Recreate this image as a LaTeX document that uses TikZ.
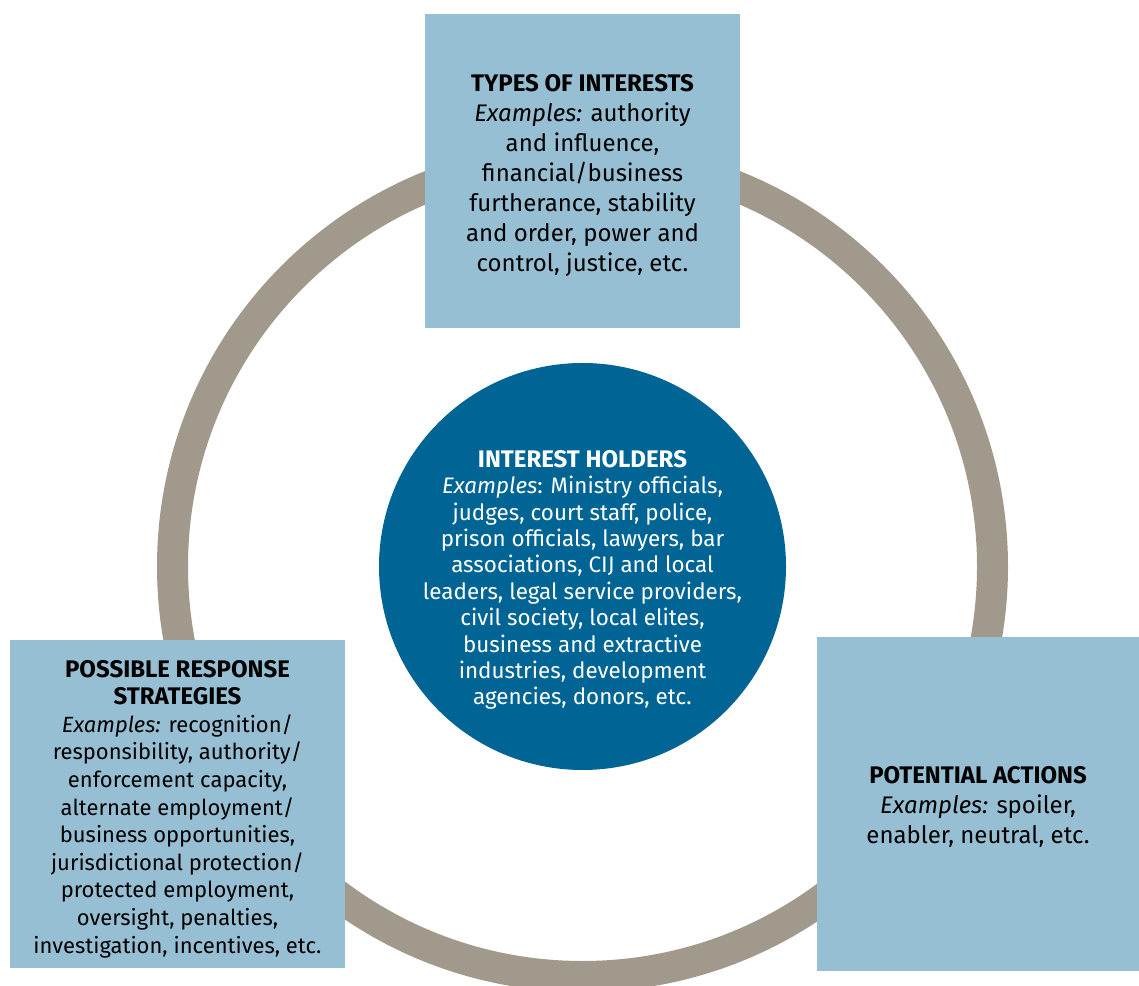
\documentclass[tikz,border=0pt]{standalone}
\usepackage{fontspec}
\setmainfont{Fira Sans}
\usetikzlibrary{positioning}

\definecolor{ringgray}{HTML}{A1998B}
\definecolor{boxblue}{HTML}{97BFD3}
\definecolor{holderblue}{HTML}{006595}

% headings are set a little larger than the body
\newcommand{\boxhead}[1]{{\fontsize{24}{24}\bfseries #1}}

\begin{document}
\begin{tikzpicture}[x=1pt, y=1pt,
    infobox/.style={fill=boxblue, inner sep=0pt},
    boxtext/.style={align=center, font=\fontsize{24}{30}\selectfont},
    holdertext/.style={text=white, align=center,
        font=\fontsize{22.4}{26.4}\selectfont}]
    \useasboundingbox (0,0) rectangle (1139,985);
    \coordinate (C) at (582.5,418.5);
    % outer ring behind everything
    \draw[ringgray, line width=31pt] (C) circle (410);
    % the three boxes on the ring
    \node[infobox, minimum width=315, minimum height=314] (types) at (582.5,814) {};
    \node[boxtext] (typeslabel) at ([yshift=-5pt]types.center)
        {\boxhead{TYPES OF INTERESTS}\\
         \textit{Examples:} authority\\
         and influence,\\
         financial/business\\
         furtherance, stability\\
         and order, power and\\
         control, justice, etc.};
    \node[infobox, minimum width=335, minimum height=328] (strategies) at (177.5,181) {};
    \node[boxtext, font=\fontsize{22}{27.6}\selectfont] (strategieslabel)
        at ([yshift=-5pt]strategies.center)
        {\boxhead{POSSIBLE RESPONSE}\\
         \boxhead{STRATEGIES}\\
         \textit{Examples:} recognition/\\
         responsibility, authority/\\
         enforcement capacity,\\
         alternate employment/\\
         business opportunities,\\
         jurisdictional protection/\\
         protected employment,\\
         oversight, penalties,\\
         investigation, incentives, etc.};
    \node[infobox, minimum width=322, minimum height=334] (actions) at (978,181) {};
    \node[boxtext] (actionslabel) at ([yshift=-2.5pt]actions.center)
        {\boxhead{POTENTIAL ACTIONS}\\
         \textit{Examples:} spoiler,\\
         enabler, neutral, etc.};
    % interest holders in the middle
    \node[circle, fill=holderblue, minimum size=407, inner sep=0pt] (holders) at (C) {};
    \node[holdertext] (holderslabel) at ([yshift=-13.5pt]holders.center)
        {\boxhead{INTEREST HOLDERS}\\
         \textit{Examples}: Ministry officials,\\
         judges, court staff, police,\\
         prison officials, lawyers, bar\\
         associations, CIJ and local\\
         leaders, legal service providers,\\
         civil society, local elites,\\
         business and extractive\\
         industries, development\\
         agencies, donors, etc.};
\end{tikzpicture}
\end{document}
